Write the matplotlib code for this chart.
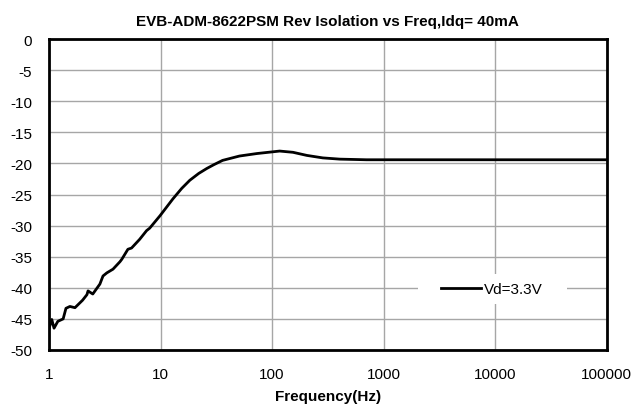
import matplotlib
matplotlib.use("Agg")
import matplotlib.pyplot as plt
from matplotlib.patches import Rectangle

plt.rcParams['font.family'] = ['Liberation Sans', 'DejaVu Sans']

# frequency (Hz) and reverse isolation (dB)
freq = [1.0, 1.06, 1.11, 1.2, 1.34, 1.42, 1.54, 1.71, 2.0, 2.19, 2.24, 2.47,
        2.86, 3.05, 3.3, 3.75, 4.33, 4.5, 5.1, 5.5, 6.5, 7.5, 8.0, 9.9, 12.9,
        15.5, 18.3, 22, 26, 30, 36, 51, 73, 117, 154, 205, 285, 405, 700,
        1500, 5000, 20000, 100000]
isolation = [-46.6, -45.1, -46.5, -45.4, -45.0, -43.3, -43.0, -43.2, -42.0,
             -41.1, -40.5, -41.0, -39.4, -38.1, -37.6, -37.0, -35.8, -35.4,
             -33.8, -33.6, -32.2, -30.8, -30.4, -28.4, -25.7, -24.0, -22.7,
             -21.6, -20.8, -20.2, -19.5, -18.8, -18.4, -18.0, -18.2, -18.7,
             -19.1, -19.3, -19.4, -19.4, -19.4, -19.4, -19.4]
series_label = "Vd=3.3V"
title = "EVB-ADM-8622PSM Rev Isolation vs Freq,Idq= 40mA"
x_ticks = [1, 10, 100, 1000, 10000, 100000]
y_ticks = list(range(0, -55, -5))

fig = plt.figure(figsize=(6.36, 4.10), dpi=100)
ax = fig.add_axes([0.077, 0.144, 0.877, 0.758])

ax.plot(freq, isolation, color='black', lw=2, label=series_label, zorder=3)
ax.set_xscale('log')
ax.set_xlim(1, 100000)
ax.set_ylim(-50, 0)
ax.set_xticks(x_ticks)
ax.set_xticklabels([str(t) for t in x_ticks])
ax.minorticks_off()
ax.set_yticks(y_ticks)
ax.set_yticklabels([str(t) for t in y_ticks])
ax.tick_params(length=0, labelsize=11, pad=12)
ax.tick_params(axis='y', pad=12)
ax.grid(True, color='#a6a6a6', lw=1)
ax.set_axisbelow(True)
for s in ax.spines.values():
    s.set_linewidth(2)

ax.set_title(title, fontsize=11, fontweight='bold', pad=10)
ax.set_xlabel("Frequency(Hz)", fontsize=11, fontweight='bold', labelpad=6)

# white box behind the legend, hiding the grid like the original
ax.add_patch(Rectangle((0.661, 0.148), 0.267, 0.096, transform=ax.transAxes,
                       facecolor='white', edgecolor='none', zorder=1))
leg = ax.legend(loc='center', bbox_to_anchor=(0.794, 0.196), frameon=False,
                fontsize=11, handlelength=2.6, handletextpad=0.2,
                borderpad=0.3)

fig.savefig("out.png", dpi=100)
